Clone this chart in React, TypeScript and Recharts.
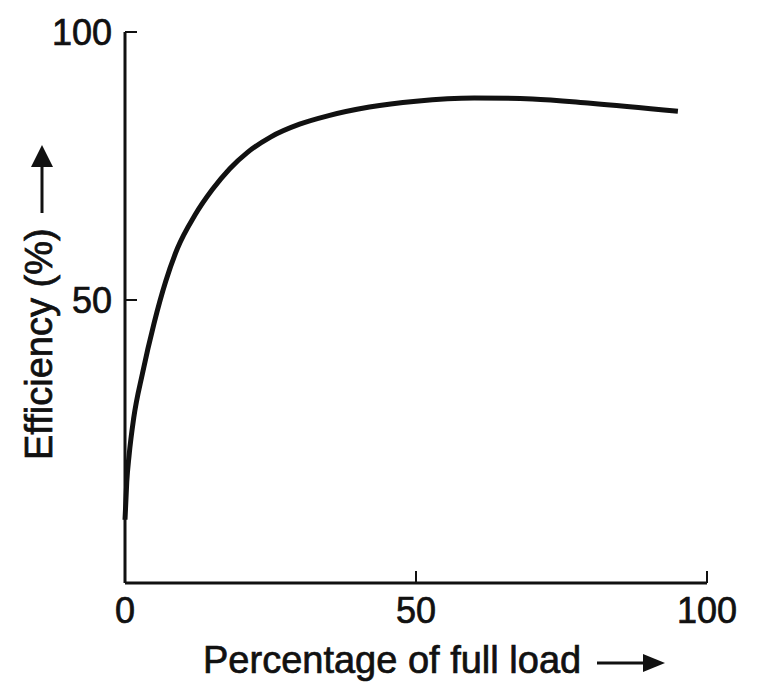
import React from 'react';
import { LineChart, Line, XAxis, YAxis, Label } from 'recharts';

// percentage of full load
const loadPct = [0, 0.3, 0.7, 1.5, 3, 5, 7, 9, 12, 15, 18, 21, 25, 30, 35, 42, 50, 60, 70, 80, 95];
// efficiency in %
const efficiency = [9, 16, 21, 28, 36.3, 45.7, 53.5, 59.6, 65.8, 70.6, 74.5, 77.5, 80.4, 82.8, 84.4, 86, 87.1, 87.7, 87.5, 86.7, 85.2];

const xTicks = [0, 50, 100];
const yTicks = [50, 100];

const data = loadPct.map((x, i) => ({ load: x, eff: efficiency[i] }));

const FONT = '"Liberation Sans", Arial, sans-serif';
const INK = '#111';

const XTitle = (props: any) => {
  const { x, y } = props.viewBox;
  const tx = x + 78;
  const ty = y + 90;
  return (
    <g>
      <text x={tx} y={ty} fontFamily={FONT} fontSize={38} fill={INK} stroke={INK} strokeWidth={0.7}>
        Percentage of full load
      </text>
      <line x1={x + 472} y1={ty - 10} x2={x + 520} y2={ty - 10} stroke={INK} strokeWidth={3} />
      <polygon points={`${x + 518},${ty - 19} ${x + 540},${ty - 10} ${x + 518},${ty - 1}`} fill={INK} />
    </g>
  );
};

const YTitle = (props: any) => {
  const { x, y } = props.viewBox;
  const bx = x - 13;
  const by = y + 428;
  return (
    <g>
      <text
        x={bx}
        y={by}
        fontFamily={FONT}
        fontSize={38}
        fill={INK}
        stroke={INK}
        strokeWidth={0.7}
        transform={`rotate(-90, ${bx}, ${by})`}
      >
        Efficiency (%)
      </text>
      <line x1={bx - 10} y1={by - 247} x2={bx - 10} y2={by - 295} stroke={INK} strokeWidth={3} />
      <polygon points={`${bx - 21},${by - 293} ${bx - 10},${by - 315} ${bx + 1},${by - 293}`} fill={INK} />
    </g>
  );
};

const tickStyle = { fill: INK, stroke: INK, strokeWidth: 0.7, fontSize: 36, fontFamily: FONT };

export default function App() {
  return (
    <div style={{ position: 'absolute', left: 0, top: 0, background: '#fff' }}>
      <LineChart width={758} height={685} data={data} margin={{ top: 32, right: 51, left: 65, bottom: 42 }}>
        <XAxis
          dataKey="load"
          type="number"
          domain={[0, 100]}
          ticks={xTicks}
          axisLine={{ stroke: INK, strokeWidth: 3 }}
          tickLine={{ stroke: INK, strokeWidth: 2 }}
          tickSize={-12}
          tickMargin={26}
          height={60}
          tick={tickStyle}
        >
          <Label content={XTitle} />
        </XAxis>
        <YAxis
          type="number"
          domain={[-2.8, 100]}
          ticks={yTicks}
          axisLine={{ stroke: INK, strokeWidth: 3 }}
          tickLine={{ stroke: INK, strokeWidth: 2 }}
          tickSize={-12}
          tickMargin={25}
          width={60}
          tick={tickStyle}
        >
          <Label content={YTitle} />
        </YAxis>
        <Line
          type="monotone"
          dataKey="eff"
          stroke={INK}
          strokeWidth={5}
          dot={false}
          isAnimationActive={false}
        />
      </LineChart>
    </div>
  );
}
